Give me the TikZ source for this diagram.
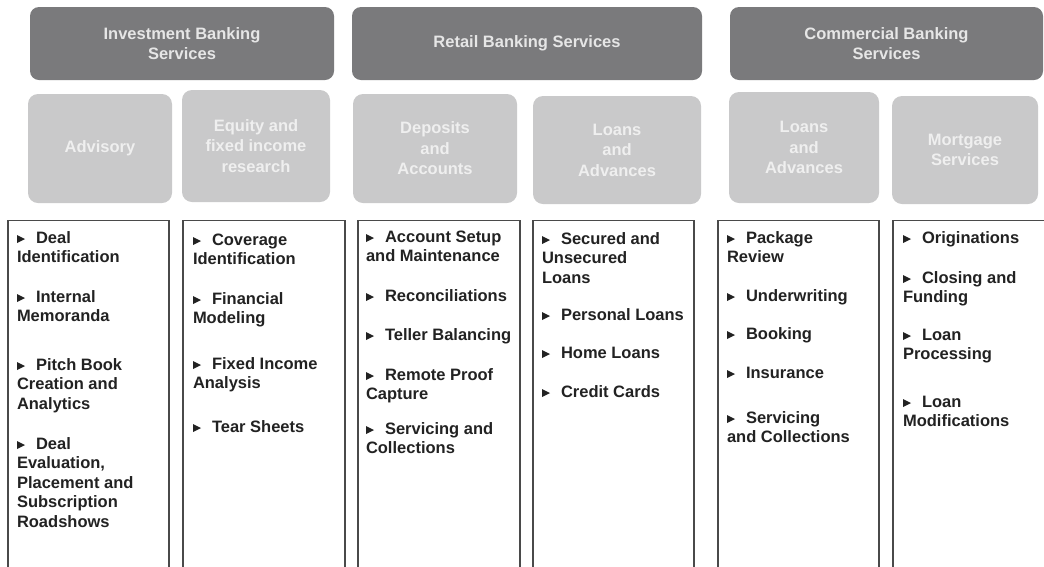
\documentclass[tikz,border=0pt]{standalone}
\usepackage{fontspec}
\setmainfont{Liberation Sans}
\definecolor{hdrfill}{HTML}{7A7A7C}
\definecolor{hdrtext}{HTML}{E6E6E6}
\definecolor{subfill}{HTML}{C9C9CA}
\definecolor{subtext}{HTML}{EFEFEF}
\definecolor{listtext}{HTML}{222222}
\definecolor{boxline}{HTML}{4A4A4A}
\newcommand\hfnt{\fontsize{16.5}{20.5}\selectfont\bfseries}
\newcommand\lfnt{\fontsize{16.5}{19.5}\selectfont\bfseries}
\newcommand\bul{\rule{0pt}{13pt}\tikz[baseline=0pt]\fill[listtext](0pt,0pt)--(0pt,8pt)--(8pt,4pt)--cycle;\hspace{11pt}}
\tikzset{
  hdrbox/.style={fill=hdrfill, rounded corners=9pt, text=hdrtext, font=\hfnt, align=center,
    inner sep=0pt, outer sep=0pt, anchor=north west},
  subbox/.style={fill=subfill, rounded corners=10pt, text=subtext, font=\hfnt, align=center,
    inner sep=0pt, outer sep=0pt, anchor=north west},
  listbox/.style={draw=boxline, line width=1.3pt, inner sep=0pt, outer sep=0pt, anchor=north west,
    minimum height=420pt},
  item/.style={anchor=north west, inner sep=0pt, outer sep=0pt, align=left, text=listtext, font=\lfnt},
}
\begin{document}
\begin{tikzpicture}[x=1pt,y=-1pt]
\useasboundingbox (0,0) rectangle (1044,566);
\clip (0,0) rectangle (1044,566);
\fill[white] (0,0) rectangle (1044,566);
% headers
\node[hdrbox, minimum width=304pt, minimum height=73pt] (ib) at (30,7) {Investment Banking\\Services};
\node[hdrbox, minimum width=350pt, minimum height=73pt] (rb) at (352,7) {Retail Banking Services};
\node[hdrbox, minimum width=313pt, minimum height=73pt] (cb) at (730,7) {Commercial Banking\\Services};
% sub boxes
\node[subbox, minimum width=144pt, minimum height=109pt] (adv) at (28,94) {Advisory};
\node[subbox, minimum width=148pt, minimum height=112pt] (eq) at (182,90) {Equity and\\fixed income\\research};
\node[subbox, minimum width=164pt, minimum height=109pt] (dep) at (353,94) {Deposits\\and\\Accounts};
\node[subbox, minimum width=168pt, minimum height=108pt] (lar) at (533,96) {Loans\\and\\Advances};
\node[subbox, minimum width=150pt, minimum height=111pt] (lac) at (729,92) {Loans\\and\\Advances};
\node[subbox, minimum width=146pt, minimum height=108pt] (mort) at (892,96) {Mortgage\\Services};
% list boxes
\node[listbox, minimum width=161pt] (l1) at (8,220.5) {};
\node[listbox, minimum width=162pt] (l2) at (183,220.5) {};
\node[listbox, minimum width=162pt] (l3) at (358,220.5) {};
\node[listbox, minimum width=161pt] (l4) at (533,220.5) {};
\node[listbox, minimum width=161pt] (l5) at (718,220.5) {};
\node[listbox, minimum width=170pt] (l6) at (893,220.5) {};
% box 1
\node[item] (a1) at (17,230) {\bul Deal\\Identification};
\node[item] (a2) at (17,289) {\bul Internal\\Memoranda};
\node[item] (a3) at (17,357) {\bul Pitch Book\\Creation and\\Analytics};
\node[item] (a4) at (17,436) {\bul Deal\\Evaluation,\\Placement and\\Subscription\\Roadshows};
% box 2
\node[item] (b1) at (193,232) {\bul Coverage\\Identification};
\node[item] (b2) at (193,291) {\bul Financial\\Modeling};
\node[item] (b3) at (193,356) {\bul Fixed Income\\Analysis};
\node[item] (b4) at (193,419) {\bul Tear Sheets};
% box 3
\node[item] (c1) at (366,229) {\bul Account Setup\\and Maintenance};
\node[item] (c2) at (366,288) {\bul Reconciliations};
\node[item] (c3) at (366,327) {\bul Teller Balancing};
\node[item] (c4) at (366,367) {\bul Remote Proof\\Capture};
\node[item] (c5) at (366,421) {\bul Servicing and\\Collections};
% box 4
\node[item] (d1) at (542,231) {\bul Secured and\\Unsecured\\Loans};
\node[item] (d2) at (542,307) {\bul Personal Loans};
\node[item] (d3) at (542,345) {\bul Home Loans};
\node[item] (d4) at (542,384) {\bul Credit Cards};
% box 5
\node[item] (e1) at (727,230) {\bul Package\\Review};
\node[item] (e2) at (727,288) {\bul Underwriting};
\node[item] (e3) at (727,326) {\bul Booking};
\node[item] (e4) at (727,365) {\bul Insurance};
\node[item] (e5) at (727,410) {\bul Servicing\\and Collections};
% box 6
\node[item] (f1) at (903,230) {\bul Originations};
\node[item] (f2) at (903,270) {\bul Closing and\\Funding};
\node[item] (f3) at (903,327) {\bul Loan\\Processing};
\node[item] (f4) at (903,394) {\bul Loan\\Modifications};
\end{tikzpicture}
\end{document}
